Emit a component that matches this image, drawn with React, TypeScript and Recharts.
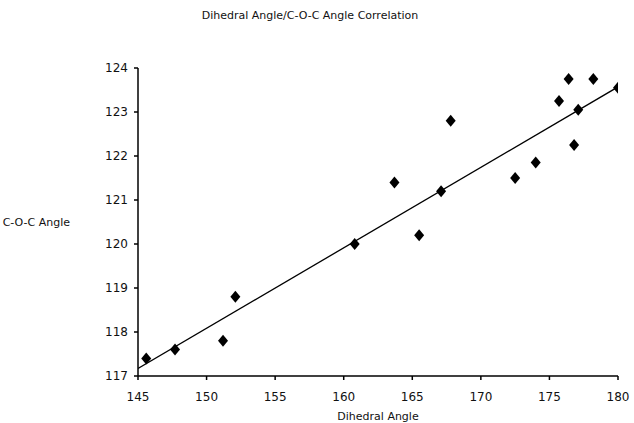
import { ScatterChart, Scatter, XAxis, YAxis } from 'recharts';

const dihedral = [145.6, 147.7, 151.2, 152.1, 160.8, 163.7, 165.5, 167.1, 167.8, 172.5, 174.0, 175.7, 176.4, 176.8, 177.1, 178.2, 180.0];
const cocAngle = [117.4, 117.6, 117.8, 118.8, 120.0, 121.4, 120.2, 121.2, 122.8, 121.5, 121.85, 123.25, 123.75, 122.25, 123.05, 123.75, 123.55];
const fitX = [145, 180];
const fitY = [117.17, 123.57];
const xTicks = [145, 150, 155, 160, 165, 170, 175, 180];
const yTicks = [117, 118, 119, 120, 121, 122, 123, 124];

const points = dihedral.map((x, i) => ({ x, y: cocAngle[i] }));
const fit = fitX.map((x, i) => ({ x, y: fitY[i] }));

const font = '"DejaVu Sans", sans-serif';

function Diamond(props: any) {
  const { cx, cy } = props;
  if (cx == null || cy == null) return <g />;
  return (
    <polygon
      points={`${cx},${cy - 6} ${cx + 5},${cy} ${cx},${cy + 6} ${cx - 5},${cy}`}
      fill="#000"
    />
  );
}

export default function App() {
  return (
    <div style={{ position: 'absolute', left: 0, top: 0, width: 634, height: 423, background: '#fff' }}>
      <div
        style={{
          position: 'absolute',
          left: 0,
          width: 620,
          top: 9,
          textAlign: 'center',
          fontFamily: font,
          fontSize: 11,
          color: '#111',
        }}
      >
        Dihedral Angle/C-O-C Angle Correlation
      </div>
      <ScatterChart width={634} height={423} margin={{ top: 68, right: 16, bottom: 17, left: 98 }}>
        <XAxis
          type="number"
          dataKey="x"
          domain={[145, 180]}
          ticks={xTicks}
          allowDataOverflow
          height={30}
          stroke="#000"
          strokeWidth={1.5}
          tickSize={4}
          tickMargin={12}
          tick={{ fill: '#111', fontSize: 12, fontFamily: font }}
          label={{ value: 'Dihedral Angle', position: 'bottom', offset: 6, fill: '#111', fontSize: 11, fontFamily: font }}
        />
        <YAxis
          type="number"
          dataKey="y"
          domain={[117, 124]}
          ticks={yTicks}
          allowDataOverflow
          width={40}
          stroke="#000"
          strokeWidth={1.5}
          tickSize={4}
          tickMargin={6}
          tick={{ fill: '#111', fontSize: 12, fontFamily: font }}
          label={{ value: 'C-O-C Angle', position: 'left', offset: 28, fill: '#111', fontSize: 11, fontFamily: font }}
        />
        <Scatter
          data={fit}
          line={{ stroke: '#000', strokeWidth: 1.3 }}
          shape={() => <g />}
          isAnimationActive={false}
        />
        <Scatter data={points} shape={Diamond} isAnimationActive={false} />
      </ScatterChart>
    </div>
  );
}
